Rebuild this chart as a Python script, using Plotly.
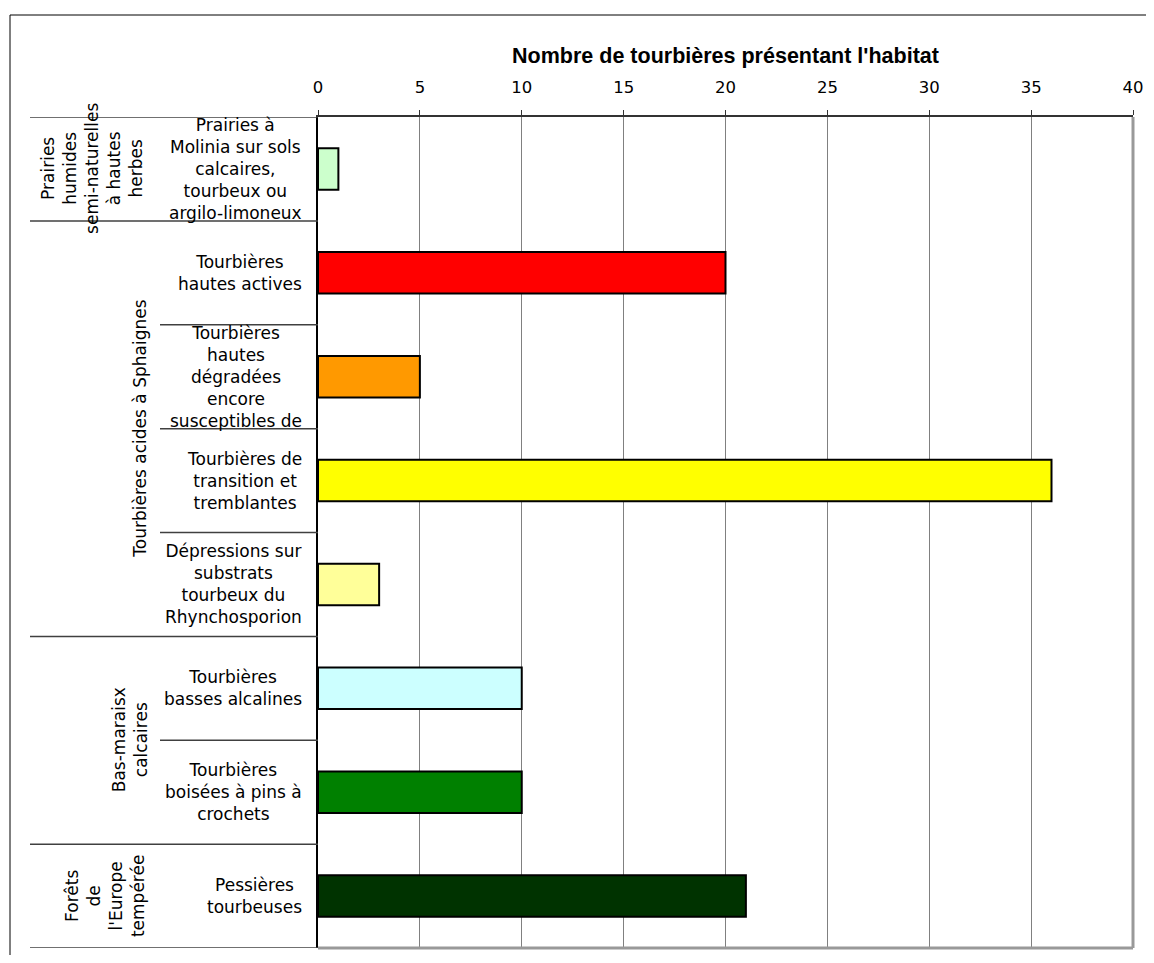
import plotly.graph_objects as go

# ---------------- data ----------------
categories = [
    "Prairies à<br>Molinia sur sols<br>calcaires,<br>tourbeux ou<br>argilo-limoneux",
    "Tourbières<br>hautes actives",
    "Tourbières<br>hautes<br>dégradées<br>encore<br>susceptibles de",
    "Tourbières de<br>transition et<br>tremblantes",
    "Dépressions sur<br>substrats<br>tourbeux du<br>Rhynchosporion",
    "Tourbières<br>basses alcalines",
    "Tourbières<br>boisées à pins à<br>crochets",
    "Pessières<br>tourbeuses",
]
values = [1, 20, 5, 36, 3, 10, 10, 21]
colors = ["#CCFFCC", "#FF0000", "#FF9900", "#FFFF00", "#FFFF99", "#CCFFFF", "#008000", "#003300"]

group_names = [
    "Prairies<br>humides<br>semi-naturelles<br>à hautes<br>herbes",
    "Tourbières acides à Sphaignes",
    "Bas-maraisx<br>calcaires",
    "Forêts<br>de<br>l'Europe<br>tempérée",
]
group_sizes = [1, 4, 2, 1]
group_label_x_px = [92, 140, 130, 105]

x_title = "Nombre de tourbières présentant l'habitat"
x_ticks = [0, 5, 10, 15, 20, 25, 30, 35, 40]

# ---------------- layout geometry (page pixels) ----------------
OFF = 8  # page body margin
W, H = 1154 - OFF, 963 - 2 * OFF
L, R, T, B = 318, 1133, 117, 948


def px_x(p):
    return (p - L) / (R - L)


def px_y(p):
    return (B - p) / (B - T)


ypos = list(range(len(categories)))

fig = go.Figure()
fig.add_trace(go.Bar(
    x=values,
    y=ypos,
    orientation="h",
    width=0.4,
    marker=dict(color=colors, line=dict(color="#000000", width=2)),
    showlegend=False,
    hoverinfo="x",
))

annotations = []
shapes = []

label_font = dict(family="DejaVu Sans, Verdana", size=17, color="#000000")

# category labels
for i, c in enumerate(categories):
    annotations.append(dict(
        x=px_x(304), xref="paper", y=i, yref="y",
        text=c, showarrow=False, xanchor="right", yanchor="middle",
        align="center", font=label_font,
    ))

# group labels & separators
start = 0
boundaries_outer = [-0.5]
boundaries_inner = []
for g, n, gx in zip(group_names, group_sizes, group_label_x_px):
    center = start + (n - 1) / 2
    annotations.append(dict(
        x=px_x(gx), xref="paper", y=center, yref="y",
        text=g, showarrow=False, textangle=-90, xanchor="center", yanchor="middle",
        align="center", font=label_font,
    ))
    for k in range(1, n):
        boundaries_inner.append(start + k - 0.5)
    start += n
    boundaries_outer.append(start - 0.5)

for b in boundaries_outer:
    shapes.append(dict(type="line", xref="paper", yref="y", x0=px_x(30), x1=0, y0=b, y1=b,
                       line=dict(color="#404040", width=1.5)))
for b in boundaries_inner:
    shapes.append(dict(type="line", xref="paper", yref="y", x0=px_x(160), x1=0, y0=b, y1=b,
                       line=dict(color="#404040", width=1.5)))

# plot area right / bottom gray border
shapes.append(dict(type="line", xref="paper", yref="paper", x0=1, x1=1, y0=0, y1=1,
                   line=dict(color="#999999", width=3)))
shapes.append(dict(type="line", xref="paper", yref="paper", x0=0, x1=1, y0=0, y1=0,
                   line=dict(color="#999999", width=3)))
# outer chart border: only top and left edges are visible in the page
shapes.append(dict(type="line", xref="paper", yref="paper", x0=px_x(10), x1=px_x(1160),
                   y0=px_y(15), y1=px_y(15), line=dict(color="#000000", width=1)))
shapes.append(dict(type="line", xref="paper", yref="paper", x0=px_x(10), x1=px_x(10),
                   y0=px_y(15), y1=px_y(970), line=dict(color="#000000", width=1)))

fig.update_layout(
    width=W, height=H,
    margin=dict(l=L - OFF, r=W - (R - OFF), t=T - OFF, b=H - (B - OFF), pad=0),
    paper_bgcolor="#FFFFFF", plot_bgcolor="#FFFFFF",
    title=dict(text="<b>" + x_title + "</b>", x=0.5, xref="paper", xanchor="center",
               y=1 - (55 - OFF) / H, yref="container", yanchor="middle",
               font=dict(family="Liberation Sans, Arial", size=21.5, color="#000000")),
    xaxis=dict(side="top", range=[0, 40], tickvals=x_ticks, ticktext=[str(t) for t in x_ticks],
               showgrid=True, gridcolor="#808080", gridwidth=1,
               showline=True, linecolor="#333333", linewidth=2,
               ticks="outside", ticklen=5, tickcolor="#333333", ticklabelstandoff=10,
               tickfont=dict(family="DejaVu Sans, Verdana", size=16.5, color="#000000"),
               zeroline=False, fixedrange=True),
    yaxis=dict(range=[len(categories) - 0.5, -0.5], showticklabels=False, showgrid=False,
               showline=True, linecolor="#000000", linewidth=1.5, ticks="", zeroline=False,
               fixedrange=True),
    annotations=annotations,
    shapes=shapes,
    bargap=0.6,
)

fig.write_html("out.html")
